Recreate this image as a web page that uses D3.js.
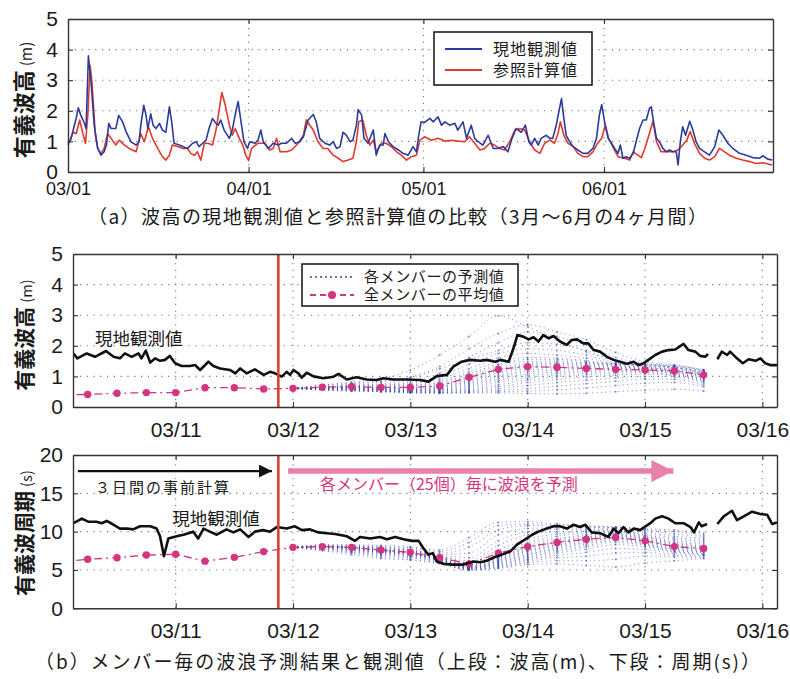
<!DOCTYPE html>
<html>
<head>
<meta charset="utf-8">
<script src="https://cdn.jsdelivr.net/npm/d3@7"></script>
<style>
  body { margin: 0; background: #fff; }
</style>
</head>
<body>
<div id="chart"></div>
<script>
(function(){

    // ---------- data: panel (a), days from 03/01 ----------
    var aObsDay = [0,0.45,1.1,1.4,1.77,2.2,2.8,3.1,3.5,3.95,4.5,5.1,5.66,6.2,6.6,7.0,7.4,8.2,8.7,9.4,10,10.8,11.7,12.2,12.5,13,13.4,13.7,14.2,14.6,15.1,15.7,16.2,16.8,17.4,17.8,18.2,19.1,19.7,20.5,21.4,22,22.5,23.1,23.7,24.2,24.8,25.4,25.8,26.2,26.8,27.7,28.2,28.8,29.2,29.7,30.2,30.8,
        31.2,32.1,32.6,33.1,33.5,34.4,35.2,36.1,36.6,37.5,38.4,39,39.8,40.4,41.2,42.1,42.6,43.2,44.1,44.9,45.5,46.1,46.7,47.2,47.8,48.4,48.9,49.5,49.8,50.4,50.8,51.5,52.4,52.9,53.5,54.1,54.4,55,55.8,56.7,57.5,58.4,59.2,59.8,60.2,60.6,
        61.2,62.1,62.7,63.5,64.1,64.7,65.5,66.4,66.9,67.8,68.4,69.2,69.8,70.4,71.2,72.1,73,73.8,74.7,75.5,76.1,76.9,77.8,78.5,79.1,79.5,80.1,80.7,81.2,82.1,82.7,83.2,83.8,84.3,84.7,85.1,85.5,86.1,86.7,87.5,88.4,89.2,90.1,90.7,91.2,91.6,
        92.1,92.7,93.3,93.8,94.4,94.8,95.25,95.8,96.4,97,97.5,98.1,98.7,99.25,99.8,100.1,100.5,101,101.5,102.1,102.7,103.25,103.8,104.4,104.7,105.1,105.5,106,106.7,107.25,107.8,108.4,109.25,110.1,111,111.7,112.4,113.25,114.1,115.25,116.4,117.5,118.7,119.25,120.1,120.85];
    var aObsHs = [0.95,1.04,1.53,1.75,2.1,1.85,1.6,1.42,3.8,2.95,1.53,0.77,0.55,0.66,0.88,1.59,1.42,1.42,1.85,1.63,1.3,0.99,0.88,0.99,1.53,2.18,1.85,1.42,1.9,1.53,1.42,1.59,1.37,1.3,2.13,1.64,0.94,0.88,0.83,0.77,0.94,0.99,0.83,0.94,1.04,1.42,1.75,1.59,1.53,1.7,1.37,1.1,1.37,1.97,2.3,1.64,0.99,0.77,
        0.99,0.94,1.04,1.37,0.99,0.77,0.94,0.88,0.94,0.94,1.1,0.94,0.99,1.15,1.7,1.88,1.64,1.1,0.94,0.88,0.99,0.77,0.83,1.3,1.2,0.99,1.04,1.53,2.04,1.86,1.1,0.94,1.37,0.55,0.88,0.88,1.26,0.99,0.83,0.72,0.61,0.55,0.83,0.66,1.2,1.64,
        1.62,1.75,1.64,1.8,1.53,1.64,1.53,1.59,1.37,1.64,1.1,1.53,1.1,0.99,0.88,1.2,0.77,0.77,0.83,0.66,1.04,1.42,1.3,1.53,0.99,0.88,1.1,0.88,1.1,1.2,1.1,1.1,1.53,2.02,2.4,1.75,1.2,0.99,0.83,0.72,0.61,0.61,0.77,1.1,1.86,2.2,
        1.64,1.1,0.94,0.77,0.61,0.88,0.45,0.5,0.45,0.61,0.99,1.42,1.7,1.7,2.08,2.13,1.64,1.1,0.99,0.77,0.66,0.72,0.66,0.66,0.23,0.99,1.48,1.2,1.66,1.37,0.99,0.77,0.66,0.55,0.83,1.37,1.2,0.94,0.77,0.61,0.55,0.47,0.45,0.53,0.42,0.39];

    var aRefDay = [0,0.9,1.4,2.0,2.5,3.0,3.4,3.8,4.1,4.7,5.1,5.66,6.2,6.8,7.4,8.2,8.8,9.7,10.5,11.7,12.2,12.5,13.1,13.8,14.5,15.4,16.2,16.8,17.4,17.9,18.8,19.7,20.5,21.1,21.7,22.2,22.8,23.4,24,24.8,25.4,25.8,26.4,27,27.7,28.2,28.7,29.4,30,30.5,31,
        31.5,32.6,33.8,34.6,35.2,35.8,36.4,37.5,38.4,39.5,40.4,40.9,41.5,42.1,42.9,43.8,44.6,45.5,46.4,47.2,48.1,48.9,49.5,49.9,50.6,51.2,51.8,52.4,52.9,53.8,54.6,55.5,56.4,57.2,58.1,58.9,59.8,60.4,
        61.2,62.4,63.5,64.7,65.8,66.9,68.1,68.9,69.8,70.7,71.5,72.4,73.2,74.1,74.9,75.8,76.7,77.5,78.4,79.2,80.1,81,81.8,82.7,83.5,84.1,84.5,85.1,85.8,86.7,87.5,88.4,89.2,90.1,90.9,91.6,92.2,
        92.8,93.5,94.4,95.5,96.4,97,97.8,98.4,99,99.7,100.4,101,101.8,102.7,103.8,104.7,105.5,106.2,106.8,107.5,108.4,109.25,110.1,111,111.8,112.7,113.5,114.7,115.8,117,118.1,119.25,120.85];
    var aRefHs = [0.88,1.3,1.25,1.7,1.3,0.94,1.85,3.48,2.95,1.2,0.77,0.6,0.77,1.25,1.1,0.88,1.04,0.88,0.77,0.66,1.04,1.25,0.99,1.48,1.1,0.77,0.5,0.39,0.55,0.88,0.83,0.77,0.77,0.6,0.55,0.66,0.39,0.94,0.94,0.88,1.37,1.85,2.6,2.18,1.53,1.2,1.42,1.1,0.88,0.55,0.37,
        0.77,0.94,0.94,0.72,0.77,1.1,0.66,0.66,0.72,0.94,1.2,1.7,1.53,1.37,0.99,0.77,0.77,0.55,0.45,0.34,0.39,0.45,0.99,1.64,1.7,1.2,0.88,1.04,0.66,0.94,0.94,0.83,0.66,0.55,0.39,0.5,0.55,1.04,
        1.15,1.04,1.1,1.01,1.04,1.01,0.99,1.15,0.94,0.72,0.77,0.94,0.88,0.77,0.72,0.99,1.37,1.42,1.37,0.99,0.72,0.61,0.94,1.04,0.94,1.26,1.64,1.2,0.94,0.83,0.61,0.5,0.5,0.66,0.94,1.1,1.53,
        1.1,0.83,0.5,0.45,0.39,0.66,0.55,0.47,0.77,1.2,1.66,0.99,0.66,0.66,0.66,0.72,0.88,1.04,1.32,0.94,0.61,0.45,0.39,0.5,0.77,0.66,0.55,0.45,0.39,0.34,0.28,0.3,0.23];

    var aTicks = ['2013-03-01', '2013-04-01', '2013-05-01', '2013-06-01'];
    var aHsTicks = [0, 1, 2, 3, 4, 5];

    // ---------- data: panel (b), hours from 03/10 00:00 ----------
    var bHsHour = [3.1,3.9,5.8,7.5,9.75,11.3,12.6,13.6,15,16.4,17,17.9,18.8,19.8,20.8,21.8,22.8,23.9,25.2,26.9,28,29,30.7,31.7,33.1,35.1,36.2,37.2,38.5,40.2,42,43.3,44.3,45.7,46.7,47.4,48.1,49.1,49.8,50.8,52.2,54.2,56.3,57.3,59,61,63.1,65.1,66.5,68.5,71.3,74,75.7,77.4,79.5,80.8,82.5,84.2,86.3,87.6,89.4,90.4,92.1,93.1,93.9,95.1,96.2,97.2,98.2,99.2,100.3,101.3,102.6,104,105,106.1,107.4,108.4,109.5,110.8,112.2,113.6,114.9,116.3,117.7,118.7,119.7,120.7,122.1,123.5,124.8,126.2,127.2,127.9,128.9,130.3,131.3,132.3,132.9,133.8,134.8,135.7,136.8,137.4,138.8,140,141.2,142.6,143.6,144.6,145.6,147];
    var bHsObs = [1.75,1.59,1.75,1.64,1.83,1.64,1.59,1.75,1.64,1.75,1.59,1.84,1.45,1.59,1.51,1.54,1.67,1.43,1.34,1.34,1.37,1.21,1.48,1.34,1.26,1.21,1.1,1.26,1.1,1.23,1.05,1.15,1.1,0.99,1.15,1.05,1.21,1.1,0.96,1.12,1.0,0.94,0.99,1.08,0.9,0.97,0.9,0.88,0.94,0.9,0.9,0.88,0.83,1.01,1.05,1.32,1.48,1.54,1.51,1.54,1.48,1.54,1.48,1.92,2.35,2.3,2.21,2.28,2.14,2.35,2.24,2.32,2.14,2.03,2.19,2.21,2.08,2.08,1.86,1.81,1.64,1.54,1.48,1.41,1.48,1.37,1.43,1.54,1.7,1.81,1.86,1.88,1.99,2.06,1.86,1.81,1.67,1.64,1.73,null,1.56,1.81,1.7,1.81,1.59,1.43,1.56,1.51,1.59,1.43,1.37,1.37];

    var bTpHour = [3.1,4.8,6.1,7.8,8.9,9.9,11.3,12.6,14,15.3,16.7,18.8,20.1,20.8,21.6,22.5,24.2,25.6,27.6,28.6,29.7,31,32.4,34.4,35.8,37.2,38.9,40.2,41.9,43.3,44.7,46.7,48.4,49.8,51.5,53.2,54.9,56.6,59,60.7,61.7,63.8,65.8,67.2,68.9,70.6,72.3,73.7,74.7,75.7,76.6,77.4,78.8,80.8,82.9,84.9,86.3,87.6,89.3,90.7,92.4,93.8,95.5,96.9,98.2,99.9,101.3,102.6,104,105.4,106.7,107.8,109.1,110.8,112.5,113.6,114.6,115.6,116.6,117.7,119,120.1,121.1,122.1,123.5,124.8,126.2,127.9,129.3,130,131,131.6,132.7,133.8,134.8,136.1,136.8,137.8,138.8,140.2,141.9,143.6,145,146,147];
    var bTpObs = [11.1,11.7,11.3,11.3,11.1,11.4,10.9,10.4,10.4,10.3,10.7,10.7,10.4,9.4,6.8,9.1,9.4,9.6,10.0,9.1,10.4,10.0,9.6,10.3,9.9,10.3,9.3,10.0,10.2,10.0,10.6,10.4,10.7,10.2,10.3,9.9,9.8,9.7,9.4,8.8,9.3,9.1,9.3,9.0,9.3,9.0,8.8,8.8,7.8,7.0,7.2,6.1,5.8,5.7,5.7,6.1,6.0,6.2,6.7,7.0,7.4,8.3,9.0,9.6,10.0,10.4,10.7,10.7,10.4,10.9,10.6,10.9,9.9,9.8,9.3,10.4,9.8,10.6,9.9,10.4,10.2,10.7,11.1,11.7,12.0,11.7,11.1,11.1,10.6,9.9,11.2,10.7,11.0,null,11.0,12.0,12.3,12.7,11.5,12.0,12.6,12.3,12.2,11.0,11.2];

    var meanHour = [0,6,12,18,24,30,36,42,48,54,60,66,72,78,84,90,96,102,108,114,120,126,132];
    var meanHs = [0.39,0.41,0.45,0.47,0.47,0.63,0.63,0.59,0.61,0.65,0.66,0.64,0.64,0.69,0.97,1.23,1.32,1.3,1.26,1.23,1.21,1.18,1.05];
    var meanTp = [6.0,6.4,6.6,6.95,7.05,6.15,6.65,7.4,7.95,8.05,7.95,7.6,7.3,6.6,5.8,7.2,8.05,8.6,9.0,9.25,8.8,8.05,7.8];

    var memberHour = [48,54,60,66,72,78,84,90,96,102,108,114,120,126,132];
    var memberHs = [
        [0.62,0.72,0.82,0.92,1.20,1.70,2.30,2.98,2.62,2.20,1.80,1.50,1.30,1.22,1.10],
        [0.61,0.68,0.76,0.82,0.98,1.32,1.90,2.40,2.70,2.45,2.20,1.78,1.48,1.38,1.22],
        [0.61,0.66,0.72,0.76,0.86,1.10,1.62,2.10,2.45,2.30,2.02,1.62,1.42,1.32,1.18],
        [0.60,0.70,0.78,0.84,0.95,1.25,1.55,1.85,2.10,2.05,1.85,1.50,1.35,1.28,1.12],
        [0.60,0.64,0.70,0.72,0.80,1.00,1.40,1.75,1.90,1.85,1.70,1.45,1.40,1.30,1.15],
        [0.61,0.66,0.68,0.70,0.76,0.92,1.25,1.60,1.75,1.70,1.60,1.42,1.38,1.35,1.18],
        [0.62,0.65,0.69,0.70,0.72,0.85,1.15,1.48,1.62,1.60,1.52,1.40,1.35,1.32,1.20],
        [0.60,0.64,0.66,0.66,0.70,0.80,1.08,1.40,1.55,1.55,1.48,1.38,1.40,1.36,1.22],
        [0.61,0.63,0.65,0.64,0.68,0.76,1.02,1.35,1.48,1.50,1.45,1.42,1.36,1.30,1.14],
        [0.60,0.62,0.64,0.62,0.64,0.72,0.96,1.28,1.42,1.45,1.42,1.40,1.32,1.28,1.10],
        [0.61,0.64,0.66,0.63,0.62,0.70,0.92,1.22,1.38,1.42,1.40,1.36,1.30,1.25,1.08],
        [0.60,0.62,0.63,0.60,0.60,0.66,0.88,1.18,1.35,1.38,1.36,1.35,1.28,1.22,1.05],
        [0.61,0.63,0.62,0.60,0.58,0.64,0.85,1.12,1.30,1.34,1.34,1.32,1.26,1.20,1.02],
        [0.60,0.61,0.61,0.58,0.56,0.62,0.82,1.08,1.26,1.30,1.30,1.30,1.25,1.18,1.00],
        [0.61,0.62,0.62,0.59,0.58,0.60,0.78,1.02,1.20,1.25,1.28,1.28,1.24,1.16,0.98],
        [0.60,0.60,0.60,0.57,0.55,0.58,0.74,0.98,1.15,1.20,1.24,1.26,1.22,1.14,0.95],
        [0.61,0.61,0.59,0.56,0.54,0.56,0.70,0.92,1.08,1.15,1.20,1.22,1.20,1.12,0.92],
        [0.60,0.59,0.58,0.55,0.52,0.55,0.66,0.86,1.02,1.10,1.15,1.18,1.18,1.10,0.90],
        [0.61,0.60,0.58,0.54,0.52,0.53,0.62,0.80,0.95,1.04,1.10,1.15,1.16,1.08,0.88],
        [0.60,0.58,0.57,0.53,0.50,0.52,0.58,0.72,0.88,0.98,1.05,1.10,1.12,1.05,0.85],
        [0.61,0.58,0.56,0.52,0.50,0.50,0.55,0.66,0.80,0.90,0.98,1.04,1.08,1.02,0.82],
        [0.60,0.57,0.55,0.52,0.49,0.48,0.52,0.60,0.70,0.80,0.88,0.95,1.00,0.98,0.78],
        [0.61,0.56,0.54,0.51,0.48,0.47,0.50,0.54,0.60,0.68,0.76,0.84,0.92,0.90,0.72],
        [0.60,0.56,0.53,0.50,0.47,0.46,0.48,0.50,0.52,0.56,0.62,0.70,0.78,0.80,0.66],
        [0.61,0.55,0.52,0.50,0.46,0.45,0.46,0.46,0.44,0.43,0.45,0.50,0.55,0.58,0.52]
    ];
    var memberTp = [
        [7.9,8.2,8.3,8.2,8.0,7.6,9.2,11.2,11.3,11.0,10.8,10.6,10.4,10.2,9.8],
        [8.0,8.3,8.2,8.1,7.9,7.4,8.6,10.8,11.0,10.9,10.7,10.6,10.3,10.0,9.6],
        [7.9,8.1,8.1,8.0,7.7,7.2,8.0,10.2,10.8,10.7,10.6,10.5,10.2,9.7,9.4],
        [8.0,8.2,8.0,7.9,7.6,7.0,7.2,9.6,10.4,10.5,10.5,10.4,10.0,9.4,9.2],
        [7.9,8.1,8.1,7.8,7.6,6.9,6.6,8.8,10.0,10.3,10.3,10.3,9.8,9.2,9.0],
        [8.0,8.0,8.0,7.8,7.5,6.8,6.2,8.2,9.6,10.0,10.1,10.2,9.6,9.0,8.8],
        [7.9,8.1,7.9,7.7,7.4,6.8,6.0,7.6,9.0,9.7,10.0,10.1,9.5,8.8,8.6],
        [8.0,8.0,8.0,7.7,7.4,6.7,5.8,7.2,8.6,9.4,9.8,10.0,9.4,8.6,8.4],
        [7.9,8.0,7.9,7.6,7.3,6.6,5.7,6.9,8.3,9.1,9.6,9.9,9.3,8.5,8.2],
        [8.0,8.1,7.9,7.6,7.3,6.6,5.6,6.7,8.0,8.9,9.5,9.8,9.2,8.4,8.1],
        [7.9,8.0,8.0,7.6,7.3,6.5,5.5,6.6,7.9,8.7,9.3,9.7,9.1,8.3,8.0],
        [8.0,8.0,7.9,7.5,7.2,6.5,5.5,6.5,7.8,8.6,9.2,9.6,9.0,8.2,7.9],
        [7.9,8.1,7.8,7.5,7.2,6.5,5.4,6.4,7.6,8.5,9.1,9.5,8.9,8.1,7.8],
        [8.0,8.0,7.9,7.5,7.2,6.4,5.4,6.3,7.5,8.3,9.0,9.4,8.8,8.0,7.7],
        [7.9,8.0,7.8,7.4,7.1,6.4,5.3,6.2,7.4,8.2,8.9,9.3,8.7,7.9,7.6],
        [8.0,8.0,7.8,7.4,7.1,6.4,5.3,6.1,7.2,8.1,8.7,9.2,8.6,7.8,7.5],
        [7.9,7.9,7.7,7.4,7.1,6.3,5.3,6.0,7.0,7.9,8.6,9.1,8.5,7.7,7.4],
        [8.0,8.0,7.7,7.3,7.0,6.3,5.2,5.9,6.9,7.8,8.4,9.0,8.4,7.6,7.3],
        [7.9,7.9,7.6,7.3,7.0,6.3,5.2,5.8,6.7,7.6,8.2,8.8,8.3,7.5,7.2],
        [8.0,7.9,7.6,7.2,6.9,6.2,5.2,5.7,6.6,7.4,8.0,8.6,8.2,7.4,7.1],
        [7.9,7.8,7.5,7.1,6.8,6.2,5.1,5.6,6.4,7.2,7.7,8.3,8.0,7.3,7.0],
        [8.0,7.8,7.4,7.0,6.7,6.1,5.1,5.5,6.3,6.9,7.3,7.8,7.7,7.1,6.9],
        [7.9,7.7,7.3,6.9,6.6,6.0,5.0,5.4,6.1,6.6,6.8,7.2,7.3,6.9,6.8],
        [8.0,7.6,7.2,6.7,6.4,5.9,5.0,5.3,5.9,6.2,6.2,6.4,6.8,6.7,6.6],
        [7.9,7.5,7.0,6.5,6.3,5.8,5.0,5.2,5.7,5.8,5.6,5.4,5.9,6.2,6.5]
    ];

    var bTicks = ['2013-03-11', '2013-03-12', '2013-03-13', '2013-03-14', '2013-03-15', '2013-03-16'];
    var bHsTicks = [0, 1, 2, 3, 4, 5];
    var bTpTicks = [0, 5, 10, 15, 20];
    var forecastStartHour = 45;
    var preCalcHours = [4, 43.7];
    var ensembleHours = [47, 125.8];

    // ---------- setup ----------
    var width = 790;
    var height = 679;
    var numFont = '"Liberation Sans", Arial, sans-serif';
    var jpFont = '"Noto Sans CJK JP", "Noto Sans", sans-serif';

    var cBlue = '#2b3b9c';
    var cRed = '#e03a2d';
    var cPink = '#d5347f';
    var cMember = '#3344aa';
    var cVline = '#d8432f';
    var cArrow = '#ea80a8';
    var cText = '#1a1a1a';

    var svg = d3.select('#chart')
        .append('svg')
            .attr('width', width)
            .attr('height', height)
            .style('font-family', numFont)
            .style('background', '#fff');

    var fmt = d3.utcFormat('%m/%d');
    var parse = d3.utcParse('%Y-%m-%d');

    function grid(g, x, y, xVals, yVals) {
        var x0 = x.range()[0], x1 = x.range()[1];
        var y0 = y.range()[0], y1 = y.range()[1];
        g.selectAll('.vgrid')
            .data(xVals)
            .enter()
            .append('line')
            .attr('x1', function(d){ return x(d); })
            .attr('x2', function(d){ return x(d); })
            .attr('y1', y0)
            .attr('y2', y1)
            .attr('stroke', '#777')
            .attr('stroke-width', 1.1)
            .attr('stroke-dasharray', '1.2,5.6');
        g.selectAll('.hgrid')
            .data(yVals)
            .enter()
            .append('line')
            .attr('x1', x0)
            .attr('x2', x1)
            .attr('y1', function(d){ return y(d); })
            .attr('y2', function(d){ return y(d); })
            .attr('stroke', '#777')
            .attr('stroke-width', 1.1)
            .attr('stroke-dasharray', '1.2,5.6');
    }

    function axes(g, x, y, xVals, yVals, xFont, yFont, xPad) {
        var x0 = x.range()[0], x1 = x.range()[1];
        var y0 = y.range()[0], y1 = y.range()[1];
        var bottom = g.append('g')
            .attr('transform', 'translate(0,' + y0 + ')')
            .call(d3.axisBottom(x).tickValues(xVals).tickFormat(fmt).tickSize(-5).tickSizeOuter(0).tickPadding(xPad));
        var top = g.append('g')
            .attr('transform', 'translate(0,' + y1 + ')')
            .call(d3.axisTop(x).tickValues(xVals).tickFormat('').tickSize(-5).tickSizeOuter(0));
        var left = g.append('g')
            .attr('transform', 'translate(' + x0 + ',0)')
            .call(d3.axisLeft(y).tickValues(yVals).tickFormat(d3.format('d')).tickSize(-5).tickSizeOuter(0).tickPadding(10));
        var right = g.append('g')
            .attr('transform', 'translate(' + x1 + ',0)')
            .call(d3.axisRight(y).tickValues(yVals).tickFormat('').tickSize(-5).tickSizeOuter(0));
        [bottom, top, left, right].forEach(function(a){
            a.attr('font-family', numFont);
            a.select('.domain').attr('stroke', '#333').attr('stroke-width', 1.4);
            a.selectAll('.tick line').attr('stroke', '#333').attr('stroke-width', 1.1);
            a.selectAll('text').attr('fill', cText);
        });
        top.selectAll('text').remove();
        right.selectAll('text').remove();
        bottom.attr('font-size', xFont);
        left.attr('font-size', yFont);
    }

    function yLabel(cx, cy, main, unit, fs) {
        var t = svg.append('text')
            .attr('transform', 'translate(' + cx + ',' + cy + ') rotate(-90)')
            .attr('text-anchor', 'middle')
            .attr('font-family', jpFont)
            .attr('font-weight', 'bold')
            .attr('font-size', fs)
            .attr('fill', cText);
        t.append('tspan').text(main);
        t.append('tspan')
            .attr('dx', 4)
            .attr('font-size', fs * 0.7)
            .attr('font-weight', 'normal')
            .text(unit);
    }

    // ---------- panel (a) ----------
    var aStart = Date.UTC(2013, 2, 1);
    var xa = d3.scaleUtc()
        .domain([new Date(aStart), new Date(Date.UTC(2013, 5, 30))])
        .range([68, 773]);
    var ya = d3.scaleLinear()
        .domain([0, 5])
        .range([172, 19]);

    var ga = svg.append('g');
    var aTickDates = aTicks.map(parse);
    grid(ga, xa, ya, aTickDates.slice(1), aHsTicks.slice(1, -1));

    function dayDate(d) { return new Date(aStart + d * 86400000); }

    var lineA = d3.line()
        .x(function(d){ return xa(dayDate(d[0])); })
        .y(function(d){ return ya(d[1]); });

    ga.append('path')
        .datum(d3.zip(aRefDay, aRefHs))
        .attr('d', lineA)
        .attr('fill', 'none')
        .attr('stroke', cRed)
        .attr('stroke-width', 1.6)
        .attr('stroke-linejoin', 'round');

    ga.append('path')
        .datum(d3.zip(aObsDay, aObsHs))
        .attr('d', lineA)
        .attr('fill', 'none')
        .attr('stroke', cBlue)
        .attr('stroke-width', 1.6)
        .attr('stroke-linejoin', 'round');

    axes(ga, xa, ya, aTickDates, aHsTicks, 18, 21, 10);

    // legend (a)
    var legA = svg.append('g').attr('class', 'legend');
    legA.append('rect')
        .attr('x', 434).attr('y', 32).attr('width', 158).attr('height', 53)
        .attr('fill', '#fff').attr('stroke', '#111').attr('stroke-width', 1.5);
    var legAItems = [['現地観測値', cBlue], ['参照計算値', cRed]];
    legA.selectAll('.item')
        .data(legAItems)
        .enter()
        .append('line')
        .attr('x1', 445).attr('x2', 482)
        .attr('y1', function(d, i){ return 49 + i * 21; })
        .attr('y2', function(d, i){ return 49 + i * 21; })
        .attr('stroke', function(d){ return d[1]; })
        .attr('stroke-width', 2.2);
    legA.selectAll('.label')
        .data(legAItems)
        .enter()
        .append('text')
        .attr('x', 493)
        .attr('y', function(d, i){ return 55 + i * 21; })
        .attr('font-family', jpFont)
        .attr('font-size', 16)
        .attr('letter-spacing', 1)
        .attr('fill', cText)
        .text(function(d){ return d[0]; });

    yLabel(32, 100, '有義波高', '(m)', 22);

    svg.append('text')
        .attr('x', 88).attr('y', 224)
        .attr('font-family', jpFont)
        .attr('font-size', 19)
        .attr('fill', cText)
        .attr('textLength', 619)
        .attr('lengthAdjust', 'spacing')
        .text('（a）波高の現地観測値と参照計算値の比較（3月～6月の4ヶ月間）');

    // ---------- panel (b) ----------
    var bStart = Date.UTC(2013, 2, 10);
    function hourDate(h) { return new Date(bStart + h * 3600000); }
    var xb = d3.scaleUtc()
        .domain([hourDate(3), hourDate(147)])
        .range([73, 777]);
    var yHs = d3.scaleLinear().domain([0, 5]).range([407, 254]);
    var yTp = d3.scaleLinear().domain([0, 20]).range([608.3, 455]);
    var bTickDates = bTicks.map(parse);

    var defs = svg.append('defs');

    function ensemblePanel(id, y, obsHour, obsVal, meanVal, members, yVals) {
        defs.append('clipPath').attr('id', id)
            .append('rect')
            .attr('x', xb.range()[0]).attr('y', y.range()[1])
            .attr('width', xb.range()[1] - xb.range()[0])
            .attr('height', y.range()[0] - y.range()[1]);

        var g = svg.append('g');
        grid(g, xb, y, bTickDates, yVals.slice(1, -1));

        var body = g.append('g').attr('clip-path', 'url(#' + id + ')');

        var mline = d3.line()
            .curve(d3.curveMonotoneX)
            .x(function(d){ return xb(hourDate(d[0])); })
            .y(function(d){ return y(d[1]); });

        // members
        var mg = body.selectAll('g.member')
            .data(members)
            .enter()
            .append('g')
            .attr('class', 'member');
        mg.append('path')
            .attr('d', function(m){ return mline(d3.zip(memberHour, m)); })
            .attr('fill', 'none')
            .attr('stroke', cMember)
            .attr('stroke-width', 0.9)
            .attr('stroke-dasharray', '1,3.4')
            .attr('opacity', 0.7);
        mg.selectAll('circle')
            .data(function(m){ return d3.zip(memberHour, m); })
            .enter()
            .append('circle')
            .attr('cx', function(d){ return xb(hourDate(d[0])); })
            .attr('cy', function(d){ return y(d[1]); })
            .attr('r', 1)
            .attr('fill', cMember)
            .attr('opacity', 0.6);

        // ensemble mean
        var meanPts = d3.zip(meanHour, meanVal);
        body.append('path')
            .datum(meanPts)
            .attr('d', d3.line()
                .x(function(d){ return xb(hourDate(d[0])); })
                .y(function(d){ return y(d[1]); }))
            .attr('fill', 'none')
            .attr('stroke', cPink)
            .attr('stroke-width', 1.3)
            .attr('stroke-dasharray', '8,4,2,4');
        body.selectAll('.mean')
            .data(meanPts)
            .enter()
            .append('circle')
            .attr('cx', function(d){ return xb(hourDate(d[0])); })
            .attr('cy', function(d){ return y(d[1]); })
            .attr('r', 3.7)
            .attr('fill', cPink);

        // observation
        body.append('path')
            .datum(d3.zip(obsHour, obsVal))
            .attr('d', d3.line()
                .defined(function(d){ return d[1] !== null; })
                .x(function(d){ return xb(hourDate(d[0])); })
                .y(function(d){ return y(d[1]); }))
            .attr('fill', 'none')
            .attr('stroke', '#111')
            .attr('stroke-width', 2.6)
            .attr('stroke-linejoin', 'round');

        // start of ensemble forecast
        g.append('line')
            .attr('x1', xb(hourDate(forecastStartHour)))
            .attr('x2', xb(hourDate(forecastStartHour)))
            .attr('y1', y.range()[0])
            .attr('y2', y.range()[1])
            .attr('stroke', cVline)
            .attr('stroke-width', 2.6);

        axes(g, xb, y, bTickDates, yVals, 21, 21, 15);
        return g;
    }

    var gHs = ensemblePanel('clipHs', yHs, bHsHour, bHsObs, meanHs, memberHs, bHsTicks);
    var gTp = ensemblePanel('clipTp', yTp, bTpHour, bTpObs, meanTp, memberTp, bTpTicks);

    // labels on the observation lines
    gHs.append('text')
        .attr('x', xb(hourDate(7.5))).attr('y', yHs(2.03))
        .attr('font-family', jpFont).attr('font-size', 17.5).attr('fill', cText)
        .text('現地観測値');
    gTp.append('text')
        .attr('x', xb(hourDate(23.3))).attr('y', yTp(10.86))
        .attr('font-family', jpFont).attr('font-size', 17.5).attr('fill', cText)
        .text('現地観測値');

    // arrows
    defs.append('marker')
        .attr('id', 'headBlack')
        .attr('viewBox', '0 0 10 10')
        .attr('refX', 10).attr('refY', 5)
        .attr('markerUnits', 'userSpaceOnUse')
        .attr('markerWidth', 26).attr('markerHeight', 13)
        .attr('orient', 'auto')
        .append('path').attr('d', 'M0,0 L10,5 L0,10 Z').attr('fill', '#111');
    defs.append('marker')
        .attr('id', 'headPink')
        .attr('viewBox', '0 0 10 10')
        .attr('refX', 10).attr('refY', 5)
        .attr('markerUnits', 'userSpaceOnUse')
        .attr('markerWidth', 40).attr('markerHeight', 22)
        .attr('orient', 'auto')
        .append('path').attr('d', 'M0,0 L10,5 L0,10 Z').attr('fill', cArrow);

    gTp.append('line')
        .attr('x1', xb(hourDate(preCalcHours[0])))
        .attr('x2', xb(hourDate(preCalcHours[1])))
        .attr('y1', yTp(17.9)).attr('y2', yTp(17.9))
        .attr('stroke', '#111').attr('stroke-width', 2.4)
        .attr('marker-end', 'url(#headBlack)');
    gTp.append('line')
        .attr('x1', xb(hourDate(ensembleHours[0])))
        .attr('x2', xb(hourDate(ensembleHours[1])))
        .attr('y1', yTp(17.9)).attr('y2', yTp(17.9))
        .attr('stroke', cArrow).attr('stroke-width', 5.5)
        .attr('marker-end', 'url(#headPink)');

    gTp.append('text')
        .attr('x', xb(hourDate(21.4))).attr('y', yTp(15.05))
        .attr('text-anchor', 'middle')
        .attr('font-family', jpFont).attr('font-size', 15).attr('letter-spacing', 2)
        .attr('fill', cText)
        .text('３日間の事前計算');
    gTp.append('text')
        .attr('x', xb(hourDate(53.5))).attr('y', yTp(15.4))
        .attr('font-family', jpFont).attr('font-size', 16)
        .attr('fill', cPink)
        .text('各メンバー（25個）毎に波浪を予測');

    // legend (b)
    var legB = svg.append('g').attr('class', 'legend');
    legB.append('rect')
        .attr('x', 302).attr('y', 264).attr('width', 216).attr('height', 42)
        .attr('fill', '#fff').attr('stroke', '#111').attr('stroke-width', 1.5);
    legB.append('line')
        .attr('x1', 310).attr('x2', 354).attr('y1', 277).attr('y2', 277)
        .attr('stroke', cMember).attr('stroke-width', 1.6).attr('stroke-dasharray', '2,3');
    legB.append('line')
        .attr('x1', 310).attr('x2', 354).attr('y1', 295).attr('y2', 295)
        .attr('stroke', cPink).attr('stroke-width', 2).attr('stroke-dasharray', '6,4');
    legB.append('circle')
        .attr('cx', 332).attr('cy', 295).attr('r', 4).attr('fill', cPink);
    legB.selectAll('.label')
        .data(['各メンバーの予測値', '全メンバーの平均値'])
        .enter()
        .append('text')
        .attr('x', 364)
        .attr('y', function(d, i){ return 282 + i * 18; })
        .attr('font-family', jpFont)
        .attr('font-size', 15)
        .attr('letter-spacing', 0.6)
        .attr('fill', cText)
        .text(function(d){ return d; });

    yLabel(32, 335, '有義波高', '(m)', 21);
    yLabel(32, 533, '有義波周期', '(s)', 21);

    svg.append('text')
        .attr('x', 35).attr('y', 669)
        .attr('font-family', jpFont)
        .attr('font-size', 19)
        .attr('fill', cText)
        .attr('textLength', 725)
        .attr('lengthAdjust', 'spacing')
        .text('（b）メンバー毎の波浪予測結果と観測値（上段：波高(m)、下段：周期(s)）');

})();
</script>
</body>
</html>
